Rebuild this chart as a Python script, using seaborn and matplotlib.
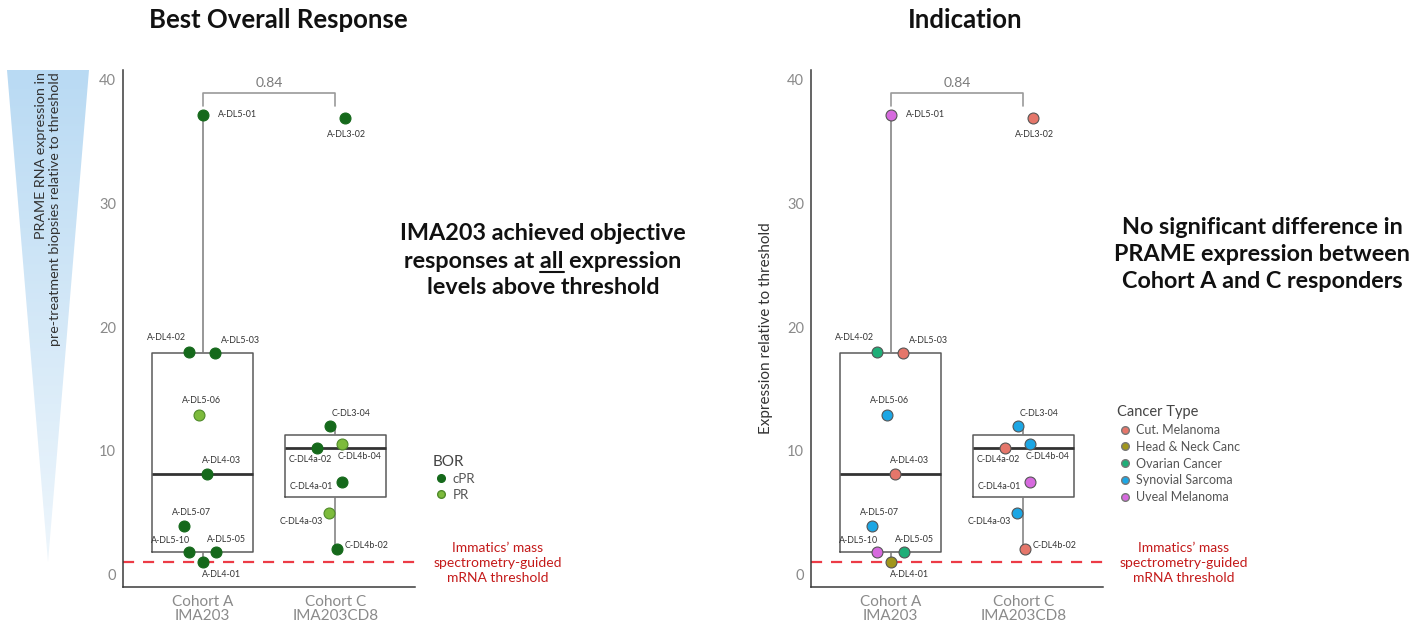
import numpy as np
import pandas as pd
import matplotlib
matplotlib.use("Agg")
import matplotlib.pyplot as plt
import seaborn as sns
from matplotlib.lines import Line2D
from matplotlib.patches import Polygon
from matplotlib.colors import LinearSegmentedColormap

# ---------------- data ----------------
samples = ["A-DL5-01", "A-DL4-02", "A-DL5-03", "A-DL5-06", "A-DL4-03", "A-DL5-07",
           "A-DL5-10", "A-DL5-05", "A-DL4-01",
           "A-DL3-02", "C-DL3-04", "C-DL4b-04", "C-DL4a-02", "C-DL4a-01", "C-DL4a-03",
           "C-DL4b-02"]
cohorts = ["Cohort A\nIMA203"] * 9 + ["Cohort C\nIMA203CD8"] * 7
expression = [37.2, 18.0, 17.9, 12.9, 8.15, 3.9, 1.8, 1.8, 1.0,
              36.9, 12.0, 10.6, 10.25, 7.5, 5.0, 2.1]
bor = ["cPR", "cPR", "cPR", "PR", "cPR", "cPR", "cPR", "cPR", "cPR",
       "cPR", "cPR", "PR", "cPR", "cPR", "PR", "cPR"]
cancer = ["Uveal Melanoma", "Ovarian Cancer", "Cut. Melanoma", "Synovial Sarcoma",
          "Cut. Melanoma", "Synovial Sarcoma", "Uveal Melanoma", "Ovarian Cancer",
          "Head & Neck Canc",
          "Cut. Melanoma", "Synovial Sarcoma", "Synovial Sarcoma", "Cut. Melanoma",
          "Uveal Melanoma", "Synovial Sarcoma", "Cut. Melanoma"]
jitter = [0.0, -0.105, 0.09, -0.03, 0.03, -0.14, -0.105, 0.10, 0.0,
          0.07, -0.04, 0.05, -0.135, 0.05, -0.045, 0.01]
cohort_order = ["Cohort A\nIMA203", "Cohort C\nIMA203CD8"]
bor_levels = ["cPR", "PR"]
cancer_levels = ["Cut. Melanoma", "Head & Neck Canc", "Ovarian Cancer",
                 "Synovial Sarcoma", "Uveal Melanoma"]
p_value = "0.84"
threshold = 1.0

# ---------------- styles / layout ----------------
label_offsets = [(35, 0), (-22, -15), (26, -13), (3, -15), (15, -13), (7, -14),
                 (-18, -12), (11, -13), (19, 12),
                 (2, 16), (21, -13), (18, 13), (-7, 12), (-31, 5), (-28, 9), (30, -3)]
bor_colors = {"cPR": "#15691b", "PR": "#7dbb3c"}
bor_edges = {"cPR": "#15691b", "PR": "#4f8a2a"}
cancer_colors = {"Cut. Melanoma": "#e5766a", "Head & Neck Canc": "#a0961c",
                 "Ovarian Cancer": "#1fae78", "Synovial Sarcoma": "#1ca6e4",
                 "Uveal Melanoma": "#d66ade"}

sns.set_style("white")
plt.rcParams["font.family"] = ["Lato", "DejaVu Sans"]

df = pd.DataFrame({"sample": samples, "cohort": cohorts, "expr": expression,
                   "bor": bor, "cancer": cancer, "jit": jitter})
df["xpos"] = df["cohort"].map({c: i for i, c in enumerate(cohort_order)}) + df["jit"]

W, H = 1425, 623
fig = plt.figure(figsize=(W / 100, H / 100), dpi=100)

def px_rect(x0, y0, x1, y1):
    return [x0 / W, 1 - y1 / H, (x1 - x0) / W, (y1 - y0) / H]

axL = fig.add_axes(px_rect(123, 70, 415, 587))
axR = fig.add_axes(px_rect(811, 70, 1103, 587))

def draw_panel(ax, hue, palette, edges):
    sns.boxplot(data=df, x="cohort", y="expr", order=cohort_order, width=0.76,
                showfliers=False, fill=False, color="#5a5a5a", linewidth=1.1,
                medianprops=dict(color="#333333", linewidth=2.0),
                whiskerprops=dict(color="#7a7a7a", linewidth=1.1),
                capprops=dict(linewidth=0), ax=ax, zorder=2)
    for lvl, col in palette.items():
        sub = df[df[hue] == lvl]
        sns.scatterplot(data=sub, x="xpos", y="expr", color=col, s=62,
                        edgecolor=edges(lvl), linewidth=0.8, ax=ax, zorder=4,
                        legend=False)
    for (_, r), (dx, dy) in zip(df.iterrows(), label_offsets):
        ax.annotate(r["sample"], (r["xpos"], r["expr"]), xytext=(dx, -dy),
                    textcoords="offset pixels", ha="center", va="center",
                    fontsize=6.4, color="#333333", zorder=5)
    ax.axhline(threshold, color="#ec3b46", linestyle=(0, (5, 4)), linewidth=1.6,
               zorder=1, clip_on=False)
    # bracket with p-value
    ax.plot([0, 0, 1, 1], [37.9, 38.95, 38.95, 37.9], color="#9a9a9a", lw=1.2,
            zorder=3)
    ax.text(0.5, 39.3, p_value, ha="center", va="bottom", fontsize=10,
            color="#7a7a7a")
    ax.set_xlim(-0.6, 1.6)
    ax.set_ylim(-1.0, 40.8)
    ax.set_yticks([0, 10, 20, 30, 40])
    ax.set_xlabel("")
    ax.set_ylabel("")
    sns.despine(ax=ax)
    for s in ["left", "bottom"]:
        ax.spines[s].set_color("#3a3a3a")
        ax.spines[s].set_linewidth(1.1)
    ax.tick_params(axis="both", colors="#8a8a8a", labelsize=10.5, length=3,
                   width=0.9, direction="out", pad=2)
    ax.tick_params(axis="x", labelsize=11, pad=3)
    for t in ax.get_xticklabels():
        t.set_linespacing(1.0)

draw_panel(axL, "bor", bor_colors, lambda l: bor_edges[l])
draw_panel(axR, "cancer", cancer_colors, lambda l: "#555555")
axR.set_ylabel("Expression relative to threshold", fontsize=11, color="#333333",
               labelpad=10)

# legends
hL = [Line2D([], [], marker="o", linestyle="", markersize=5.5,
             markerfacecolor=bor_colors[l], markeredgecolor=bor_edges[l], label=l)
      for l in bor_levels]
legL = fig.legend(handles=hL, title="BOR", loc="upper left",
                  bbox_to_anchor=(421 / W, 1 - 443 / H), frameon=False,
                  fontsize=9.5, title_fontsize=11, handletextpad=0.3,
                  labelspacing=0.3, handlelength=1.2, alignment="left")
for t in legL.get_texts():
    t.set_color("#555555")
legL.get_title().set_color("#444444")

hR = [Line2D([], [], marker="o", linestyle="", markersize=5.5,
             markerfacecolor=cancer_colors[l], markeredgecolor="#777777", label=l)
      for l in cancer_levels]
legR = fig.legend(handles=hR, title="Cancer Type", loc="upper left",
                  bbox_to_anchor=(1106 / W, 1 - 394 / H), frameon=False,
                  fontsize=9, title_fontsize=10.5, handletextpad=0.3,
                  labelspacing=0.38, handlelength=1.2, alignment="left")
for t in legR.get_texts():
    t.set_color("#555555")
legR.get_title().set_color("#444444")

# overlay axes in pixel coordinates for free text and the triangle
ov = fig.add_axes([0, 0, 1, 1], zorder=-1)
ov.axis("off")
tri = Polygon([(7, 70), (89, 70), (48, 562)], closed=True, facecolor="none",
              edgecolor="none")
ov.add_patch(tri)
cmap = LinearSegmentedColormap.from_list("tri", ["#b9daf3", "#eef6fc"])
grad = np.linspace(0, 1, 256).reshape(-1, 1)
im = ov.imshow(grad, cmap=cmap, extent=[7, 89, 562, 70], aspect="auto",
               origin="upper")
im.set_clip_path(tri)
ov.set_xlim(0, W)
ov.set_ylim(H, 0)

fig.text(48 / W, 1 - 72 / H, "PRAME RNA expression in\npre-treatment biopsies relative to threshold",
         rotation=90, ha="center", va="top", multialignment="right",
         fontsize=10.3, color="#333333", linespacing=1.15)

fig.text(278 / W, 1 - 20 / H, "Best Overall Response", ha="center", va="center",
         fontsize=18.5, fontweight="bold", color="#111111")
fig.text(965 / W, 1 - 20 / H, "Indication", ha="center", va="center",
         fontsize=18.5, fontweight="bold", color="#111111")

BIG = 16.8
big = dict(ha="center", va="center", fontsize=BIG, fontweight="bold", color="#111111")
fig.text(543 / W, 1 - 234 / H, "IMA203 achieved objective", **big)
mid = fig.text(543 / W, 1 - 261 / H, "responses at all expression", **big)
fig.text(543 / W, 1 - 288 / H, "levels above threshold", **big)
fig.text(1262 / W, 1 - 228 / H, "No significant difference in", **big)
fig.text(1262 / W, 1 - 255 / H, "PRAME expression between", **big)
fig.text(1262 / W, 1 - 282 / H, "Cohort A and C responders", **big)

# underline "all"
renderer = fig.canvas.get_renderer()
def text_w(s):
    t = fig.text(0, 0, s, fontsize=BIG, fontweight="bold")
    w = t.get_window_extent(renderer).width
    t.remove()
    return w
full_w = mid.get_window_extent(renderer).width
x_start = 543 - full_w / 2
x_all_end = x_start + text_w("responses at all")
x_all_start = x_all_end - text_w("all")
ov.plot([x_all_start, x_all_end], [272, 272], color="#111111", lw=1.5)

red = dict(ha="center", va="center", fontsize=10, color="#c41a1a", linespacing=1.25)
fig.text(498 / W, 1 - 563 / H, "Immatics\u2019 mass\nspectrometry-guided\nmRNA threshold", **red)
fig.text(1184 / W, 1 - 563 / H, "Immatics\u2019 mass\nspectrometry-guided\nmRNA threshold", **red)

fig.savefig("out.png", dpi=100, facecolor="white")
